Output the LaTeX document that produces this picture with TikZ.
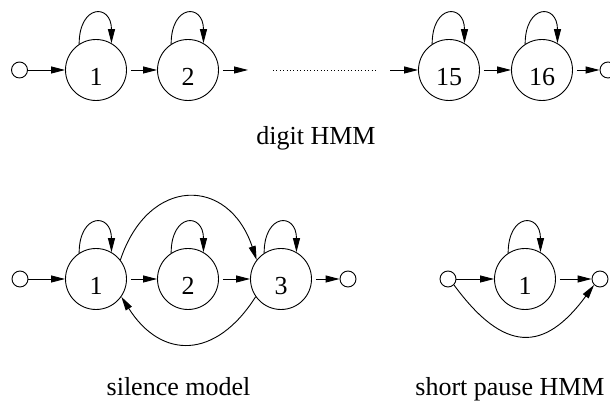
\documentclass[tikz,border=0pt]{standalone}
\usepackage{fontspec}
\setmainfont{Liberation Serif}
\usetikzlibrary{arrows.meta}
\begin{document}
\begin{tikzpicture}[x=1pt,y=1pt,
  every node/.style={font=\fontsize{26}{30}\selectfont},
  state/.style={draw, circle, minimum size=61pt, inner sep=0pt, line width=0.9pt,
                text height=31.5pt, text depth=0pt},
  term/.style={draw, circle, minimum size=16pt, inner sep=0pt, line width=0.9pt},
  tr/.style={-{Triangle[length=14pt,width=7pt]}, line width=0.9pt},
  gap/.style={shorten <=4pt},
  dotline/.style={line width=0.9pt, dash pattern=on 1pt off 2.4pt},
  lbl/.style={anchor=base}]
\useasboundingbox (0,0) rectangle (610,403);
% ---------- digit HMM ----------
\node[term] (s0) at (19.5,333) {};
\node[state] (a1) at (96,333) {1};
\node[state] (a2) at (188,333) {2};
\node[state] (a15) at (449,333) {15};
\node[state] (a16) at (542,333) {16};
\node[term] (e0) at (608,333) {};
\coordinate (c1) at (248,333);
\coordinate (d1) at (273,333);
\coordinate (d2) at (377,333);
\coordinate (c2) at (390,333);
\draw[tr] (s0) -- (a1);
\draw[tr,gap] (a1) -- (a2);
\draw[tr,gap] (a2) -- (c1);
\draw[dotline] (d1) -- (d2);
\draw[tr] (c2) -- (a15);
\draw[tr,gap] (a15) -- (a16);
\draw[tr,gap] (a16) -- (e0);
\foreach \n in {a1,a2,a15,a16}
  \draw[tr] (\n.123) .. controls +(0,40) and +(0,40) .. (\n.60);
\node[lbl] (t1) at (316,258) {digit HMM};
% ---------- silence model ----------
\node[term] (b0) at (20,124) {};
\node[state] (b1) at (96,124) {1};
\node[state] (b2) at (188,124) {2};
\node[state] (b3) at (281,124) {3};
\node[term] (b4) at (348,124) {};
\draw[tr] (b0) -- (b1);
\draw[tr,gap] (b1) -- (b2);
\draw[tr,gap] (b2) -- (b3);
\draw[tr,gap] (b3) -- (b4);
\foreach \n in {b1,b2,b3}
  \draw[tr] (\n.123) .. controls +(0,40) and +(0,40) .. (\n.60);
\draw[tr] (b1.38) .. controls +(28,84) and +(-28,84) .. (b3.142);
\draw[tr] (b3.215) .. controls +(-40,-63) and +(40,-63) .. (b1.325);
\node[lbl] (t2) at (178.5,7) {silence model};
% ---------- short pause HMM ----------
\node[term] (p0) at (448,124) {};
\node[state] (p1) at (525,124) {1};
\node[term] (p2) at (600,124) {};
\draw[tr] (p0) -- (p1);
\draw[tr,gap] (p1) -- (p2);
\draw[tr] (p1.123) .. controls +(0,40) and +(0,40) .. (p1.60);
\draw[tr] (p0.-45) .. controls +(50,-68) and +(-50,-68) .. (p2.225);
\node[lbl] (t3) at (510,7) {short pause HMM};
\end{tikzpicture}
\end{document}
